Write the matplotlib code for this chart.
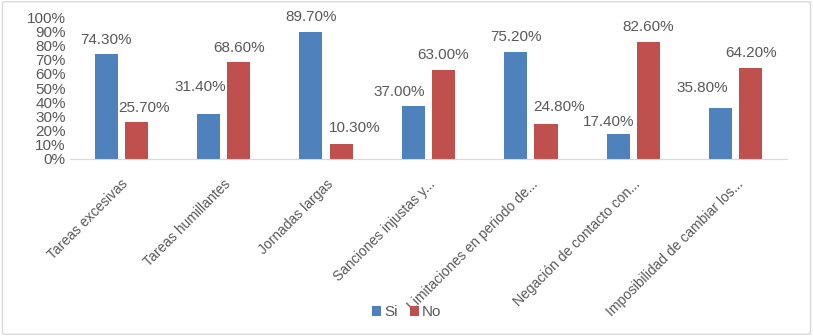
import matplotlib.pyplot as plt
import numpy as np
from matplotlib.patches import FancyBboxPatch

# Data
categories = [
    "Tareas excesivas", "Tareas humillantes", "Jornadas largas",
    "Sanciones injustas y...", "Limitaciones en periodo de...",
    "Negación de contacto con...", "Imposibilidad de cambiar los...",
]
si_values = [74.3, 31.4, 89.7, 37.0, 75.2, 17.4, 35.8]
no_values = [25.7, 68.6, 10.3, 63.0, 24.8, 82.6, 64.2]
series_names = ["Si", "No"]

# label nudges (pixels), as placed in the original chart
si_dx = [0, -8, 0, -14, 0, -10, -18]
si_dy = [13.5, 27, 14.5, 14.5, 15, 12.5, 20]
no_dx = [8, 0, 14, 0, 13, 0, 0]
no_dy = [14.5, 14, 16, 14.5, 17, 14.5, 14.5]

plt.rcParams['font.family'] = ['Liberation Sans', 'DejaVu Sans']
grey = '#595959'
colors = ['#4F81BD', '#C0504D']

fig = plt.figure(figsize=(8.13, 3.36), dpi=100)
ax = fig.add_axes([0.086, 0.527, 0.882, 0.422])

# Figure frame
fig.patches.append(FancyBboxPatch((0.003, 0.005), 0.994, 0.99, boxstyle="round,pad=0,rounding_size=0.005",
                                  transform=fig.transFigure, fill=False, edgecolor='#d9d9d9', linewidth=1))

x = np.arange(len(categories))
w = 0.225
gap = 0.07
b1 = ax.bar(x - (w + gap) / 2, si_values, w, color=colors[0], label=series_names[0])
b2 = ax.bar(x + (w + gap) / 2, no_values, w, color=colors[1], label=series_names[1])

for bars, vals, dxs, dys in ((b1, si_values, si_dx, si_dy), (b2, no_values, no_dx, no_dy)):
    for rect, v, dx, dy in zip(bars, vals, dxs, dys):
        ax.annotate(f'{v:.2f}%', (rect.get_x() + rect.get_width() / 2, v),
                    xytext=(dx, dy), textcoords='offset pixels',
                    ha='center', va='center', fontsize=11, color=grey)

ax.set_xlim(-0.5, len(categories) - 0.5)
ax.set_ylim(0, 100)
ax.set_yticks(np.arange(0, 101, 10))
ax.set_yticklabels([f'{t}%' for t in range(0, 101, 10)], fontsize=11, color=grey)
ax.set_xticks(x)
ax.set_xticklabels(categories, rotation=45, ha='right', rotation_mode='anchor',
                   fontsize=10, color=grey)
ax.tick_params(axis='both', length=0, pad=3)
ax.tick_params(axis='x', pad=13)
for s in ['top', 'right', 'left']:
    ax.spines[s].set_visible(False)
ax.spines['bottom'].set_color('#d9d9d9')

fig.legend(loc='center', bbox_to_anchor=(0.5, 0.07), ncol=2, frameon=False,
           fontsize=11, labelcolor=grey, handlelength=0.6, handleheight=0.6,
           handletextpad=0.2, columnspacing=0.8)

fig.savefig('out.png', dpi=100)
